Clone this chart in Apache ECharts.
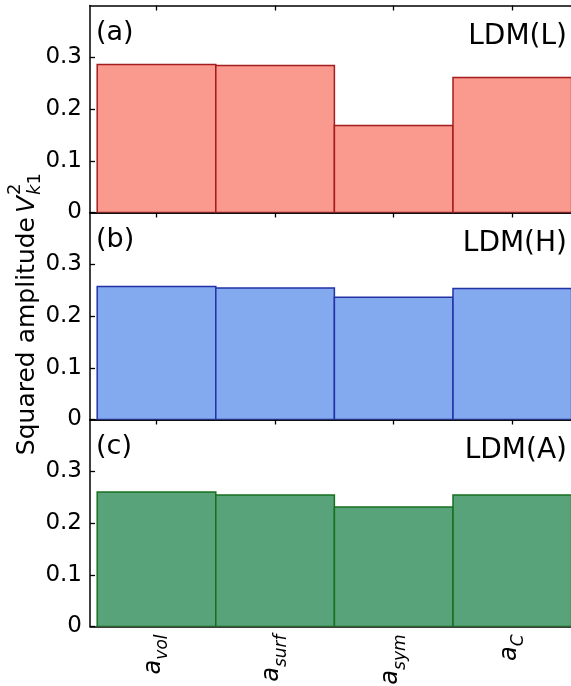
<!DOCTYPE html>
<html>
<head>
<meta charset="utf-8">
<script src="https://cdn.jsdelivr.net/npm/echarts@6/dist/echarts.min.js"></script>
<style>
html,body{margin:0;padding:0;background:#fff;}
#chart{width:571px;height:686px;}
</style>
</head>
<body>
<div id="chart"></div>
<script>
// ---- data ----
const categories = ['vol', 'surf', 'sym', 'C'];
const panelTags = ['(a)', '(b)', '(c)'];
const modelNames = ['LDM(L)', 'LDM(H)', 'LDM(A)'];
const valuesL = [0.286, 0.284, 0.168, 0.261];
const valuesH = [0.257, 0.254, 0.236, 0.253];
const valuesA = [0.260, 0.254, 0.231, 0.254];
const yTicks = [0, 0.1, 0.2, 0.3];

const panelValues = [valuesL, valuesH, valuesA];
const fills = ['#FA998D', '#83A9EF', '#58A37A'];
const strokes = ['#A51C1E', '#2232A6', '#16701F'];

const FONT = 'DejaVu Sans';
const gridLeft = 90, gridW = 481;
const panelTops = [5.5, 212.5, 419.5];
const panelH = 207;
const xMin = -0.5607, xMax = 3.495;

const chart = echarts.init(document.getElementById('chart'));

const grids = [], xAxes = [], yAxes = [], series = [], graphics = [];
panelTops.forEach((top, k) => {
  grids.push({ left: gridLeft, top: top, width: gridW, height: panelH, containLabel: false, outerBoundsMode: 'none' });
  const last = k === 2;
  // bottom axis
  xAxes.push({
    type: 'value', gridIndex: k, min: xMin, max: xMax, position: 'bottom',
    axisLine: { show: true, onZero: false, lineStyle: { color: '#000', width: 1.5 } },
    axisTick: { show: false },
    splitLine: { show: false },
    axisLabel: last ? {
      show: true, customValues: [0, 1, 2, 3], rotate: 90, margin: 8,
      formatter: function (v) { const i = Math.round(v); return '{a|a}{s|' + categories[i] + '}'; },
      rich: {
        a: { fontFamily: FONT, fontStyle: 'italic', fontSize: 24, color: '#000', verticalAlign: 'top', lineHeight: 30, padding: [0, 0, 0, 0] },
        s: { fontFamily: FONT, fontStyle: 'italic', fontSize: 17, color: '#000', verticalAlign: 'bottom', lineHeight: 30 }
      },
      padding: [0, 0, 0, 0]
    } : { show: false }
  });
  // top axis with inward ticks
  xAxes.push({
    type: 'value', gridIndex: k, min: xMin, max: xMax, position: 'top',
    axisLine: { show: true, onZero: false, lineStyle: { color: '#000', width: 1.5 } },
    axisTick: { show: true, inside: true, length: 5, customValues: [0, 1, 2, 3], lineStyle: { color: '#000', width: 1.3 } },
    axisLabel: { show: false },
    splitLine: { show: false }
  });
  yAxes.push({
    type: 'value', gridIndex: k, min: 0, max: 0.4, interval: 0.1,
    axisLine: { show: true, onZero: false, lineStyle: { color: '#000', width: 1.5 } },
    axisTick: { show: true, inside: true, length: 5, customValues: yTicks, lineStyle: { color: '#000', width: 1.3 } },
    splitLine: { show: false },
    axisLabel: {
      customValues: yTicks, margin: 8, fontFamily: FONT, fontSize: 23, color: '#000',
      formatter: function (v) { return v === 0 ? '0' : v.toFixed(1); }
    }
  });
  const fill = fills[k], stroke = strokes[k];
  series.push({
    type: 'custom', xAxisIndex: 2 * k, yAxisIndex: k, clip: true,
    data: panelValues[k].map((v, i) => [i, v]),
    renderItem: function (params, api) {
      const i = api.value(0), v = api.value(1);
      const p0 = api.coord([i - 0.5, v]);
      const p1 = api.coord([i + 0.5, 0]);
      return {
        type: 'rect',
        shape: { x: p0[0], y: p0[1], width: p1[0] - p0[0], height: p1[1] - p0[1] },
        style: { fill: fill, stroke: stroke, lineWidth: 1.5 }
      };
    }
  });
  graphics.push({
    type: 'text', left: 96, top: top + 14,
    style: { text: panelTags[k], font: '27px "' + FONT + '"', fill: '#000' }
  });
  graphics.push({
    type: 'text', right: 4, top: top + 17,
    style: { text: modelNames[k], font: '28px "' + FONT + '"', fill: '#000' }
  });
});

// y axis title (rotated group)
graphics.push({
  type: 'group', x: 27, y: 322, rotation: Math.PI / 2,
  children: [
    { type: 'text', x: 105, y: 0, style: { text: 'Squared amplitude', font: '25px "' + FONT + '"', fill: '#000', align: 'right', verticalAlign: 'middle' } },
    { type: 'text', x: 109, y: 0, style: { text: 'V', font: 'italic 25px "' + FONT + '"', fill: '#000', align: 'left', verticalAlign: 'middle' } },
    { type: 'text', x: 127, y: -12, style: { text: '2', font: '18px "' + FONT + '"', fill: '#000', align: 'left', verticalAlign: 'middle' } },
    { type: 'text', x: 127, y: 8, style: { text: '{k|k}{o|1}', rich: { k: { fontFamily: FONT, fontStyle: 'italic', fontSize: 18, fill: '#000' }, o: { fontFamily: FONT, fontSize: 18, fill: '#000' } }, align: 'left', verticalAlign: 'middle' } }
  ]
});

chart.setOption({
  animation: false,
  backgroundColor: '#fff',
  grid: grids,
  xAxis: xAxes,
  yAxis: yAxes,
  series: series,
  graphic: graphics
});
</script>
</body>
</html>
